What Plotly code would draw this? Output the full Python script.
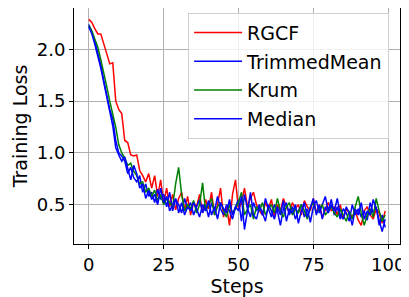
import plotly.graph_objects as go

steps = list(range(100))

rgcf = [2.29, 2.26, 2.20, 2.15, 2.15, 2.05, 1.95, 1.86, 1.87, 1.50, 1.42, 1.38, 1.12, 1.10, 0.98, 0.97, 0.98, 0.83, 0.78, 0.72, 0.80,
        0.66, 0.78, 0.58, 0.74, 0.52, 0.66, 0.48, 0.60, 0.45, 0.56, 0.62, 0.44, 0.58, 0.40, 0.52, 0.48, 0.60, 0.42, 0.55, 0.46,
        0.62, 0.40, 0.50, 0.66, 0.38, 0.48, 0.30, 0.60, 0.74, 0.45, 0.52, 0.66, 0.48, 0.56, 0.62, 0.50, 0.44, 0.40, 0.52, 0.46,
        0.55, 0.38, 0.50, 0.44, 0.56, 0.48, 0.42, 0.52, 0.46, 0.50, 0.40, 0.54, 0.48, 0.44, 0.56, 0.42, 0.50, 0.38, 0.46, 0.52,
        0.44, 0.48, 0.40, 0.50, 0.36, 0.46, 0.42, 0.38, 0.44, 0.35, 0.30, 0.44, 0.48, 0.40, 0.36, 0.46, 0.42, 0.32, 0.44]

trimmed_mean = [2.24, 2.17, 2.08, 1.97, 1.85, 1.70, 1.56, 1.42, 1.33, 1.12, 1.00, 0.97, 0.92, 0.80, 0.86, 0.76, 0.72, 0.78, 0.62, 0.70, 0.58,
                0.62, 0.52, 0.65, 0.55, 0.60, 0.48, 0.62, 0.44, 0.55, 0.50, 0.42, 0.56, 0.46, 0.52, 0.40, 0.48, 0.55, 0.42, 0.50, 0.38,
                0.52, 0.44, 0.58, 0.46, 0.40, 0.50, 0.44, 0.36, 0.48, 0.55, 0.34, 0.60, 0.46, 0.38, 0.52, 0.44, 0.50, 0.40, 0.56, 0.46,
                0.38, 0.50, 0.44, 0.30, 0.46, 0.52, 0.40, 0.48, 0.36, 0.44, 0.50, 0.38, 0.46, 0.33, 0.48, 0.54, 0.42, 0.50, 0.58, 0.44,
                0.55, 0.40, 0.48, 0.36, 0.46, 0.42, 0.34, 0.50, 0.40, 0.46, 0.38, 0.44, 0.35, 0.52, 0.42, 0.48, 0.30, 0.40, 0.28]

krum = [2.23, 2.18, 2.10, 2.02, 1.90, 1.78, 1.64, 1.50, 1.38, 1.25, 1.08, 1.00, 0.95, 0.88, 0.90, 0.82, 0.78, 0.70, 0.72, 0.62, 0.66,
        0.58, 0.64, 0.54, 0.60, 0.50, 0.56, 0.52, 0.48, 0.70, 0.86, 0.60, 0.44, 0.50, 0.46, 0.54, 0.42, 0.50, 0.71, 0.44, 0.50,
        0.56, 0.40, 0.48, 0.52, 0.44, 0.38, 0.50, 0.42, 0.46, 0.52, 0.62, 0.40, 0.46, 0.50, 0.36, 0.48, 0.44, 0.52, 0.40, 0.46,
        0.50, 0.42, 0.56, 0.44, 0.38, 0.48, 0.52, 0.40, 0.46, 0.42, 0.50, 0.44, 0.36, 0.48, 0.52, 0.42, 0.46, 0.50, 0.40, 0.44,
        0.48, 0.42, 0.38, 0.46, 0.40, 0.34, 0.44, 0.36, 0.48, 0.58, 0.42, 0.30, 0.40, 0.46, 0.38, 0.56, 0.44, 0.34, 0.40]

median = [2.22, 2.15, 2.05, 1.94, 1.82, 1.68, 1.52, 1.40, 1.26, 1.05, 0.98, 0.92, 0.96, 0.85, 0.74, 0.88, 0.80, 0.66, 0.70, 0.56, 0.64,
          0.55, 0.60, 0.50, 0.66, 0.52, 0.58, 0.44, 0.50, 0.56, 0.42, 0.52, 0.40, 0.48, 0.44, 0.52, 0.46, 0.38, 0.50, 0.44, 0.54,
          0.40, 0.48, 0.36, 0.52, 0.46, 0.42, 0.55, 0.40, 0.48, 0.44, 0.58, 0.26, 0.44, 0.62, 0.40, 0.36, 0.48, 0.42, 0.34, 0.50,
          0.44, 0.36, 0.48, 0.40, 0.54, 0.34, 0.46, 0.42, 0.50, 0.32, 0.44, 0.52, 0.38, 0.46, 0.56, 0.40, 0.50, 0.36, 0.48, 0.42,
          0.50, 0.44, 0.56, 0.40, 0.36, 0.48, 0.42, 0.30, 0.46, 0.40, 0.52, 0.36, 0.44, 0.40, 0.55, 0.46, 0.34, 0.24, 0.36]

series_names = ["RGCF", "TrimmedMean", "Krum", "Median"]
series_values = [rgcf, trimmed_mean, krum, median]
series_colors = ["#ff0000", "#0000ff", "#008000", "#0000ff"]

x_ticks = [0, 25, 50, 75, 100]
y_ticks = [0.5, 1.0, 1.5, 2.0]
y_tick_labels = ["0.5", "1.0", "1.5", "2.0"]

font_family = "DejaVu Sans"

fig = go.Figure()
for i, (name, vals, col) in enumerate(zip(series_names, series_values, series_colors)):
    fig.add_trace(go.Scatter(x=steps, y=vals, mode="lines", name=name,
                             legendgroup=f"g{i}",
                             line=dict(color=col, width=1.5)))

axis_common = dict(showgrid=True, gridcolor="#b0b0b0", gridwidth=1,
                   showline=True, linecolor="#000000", linewidth=1, mirror=True,
                   ticks="outside", ticklen=4, tickcolor="#000000",
                   zeroline=False, automargin=False,
                   tickfont=dict(family=font_family, size=18, color="#000000"))

fig.update_xaxes(range=[-4.95, 103.95], tickvals=x_ticks,
                 title=dict(text="Steps", font=dict(family=font_family, size=19, color="#000000"), standoff=0),
                 **axis_common)
fig.update_yaxes(range=[0.12, 2.40], tickvals=y_ticks, ticktext=y_tick_labels,
                 title=dict(text="Training Loss", font=dict(family=font_family, size=19, color="#000000"), standoff=4),
                 **axis_common)

# page body has an 8px default margin, so the figure is sized to fit the 409x297 window
fig.update_layout(
    width=401, height=289,
    margin=dict(l=66, r=9, t=0, b=53),
    paper_bgcolor="white", plot_bgcolor="white",
    font=dict(family=font_family, color="#000000"),
    legend=dict(x=0.35, y=0.98, xanchor="left", yanchor="top",
                bgcolor="rgba(255,255,255,0.8)", bordercolor="#d0d0d0", borderwidth=1,
                font=dict(family=font_family, size=19, color="#000000"),
                itemwidth=48,
                traceorder="grouped", tracegroupgap=1),
    showlegend=True,
)

fig.write_html("out.html")
